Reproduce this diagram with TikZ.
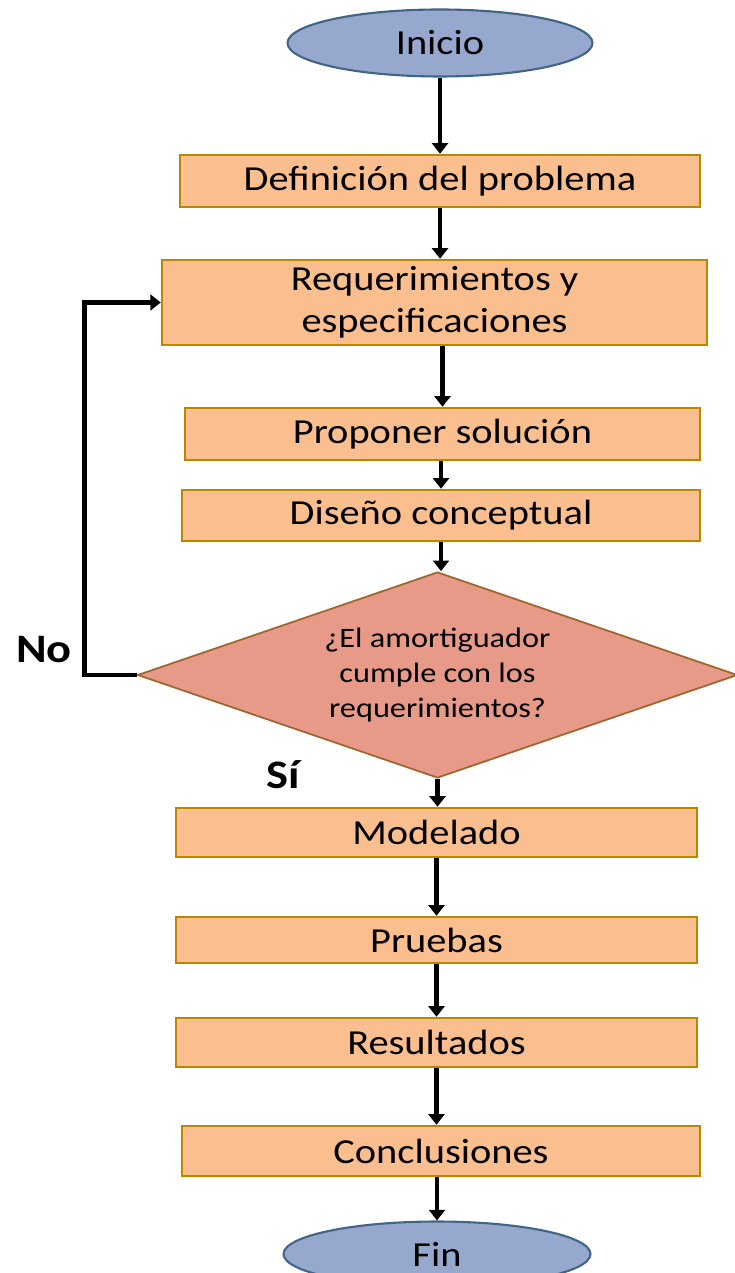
\documentclass[tikz,border=0pt]{standalone}
\usepackage{fontspec}
\setmainfont[FakeStretch=1.15]{Carlito}
\usetikzlibrary{shapes.geometric,arrows.meta}
\definecolor{peachfill}{RGB}{251,190,142}
\definecolor{goldline}{RGB}{185,136,0}
\definecolor{salmonfill}{RGB}{232,154,136}
\definecolor{brownline}{RGB}{160,100,45}
\definecolor{bluefill}{RGB}{150,168,205}
\definecolor{blueline}{RGB}{65,100,135}

\tikzset{
  stepbox/.style={draw=goldline,fill=peachfill,line width=1.4pt,align=center,
    font=\fontsize{20}{24}\selectfont,inner sep=0pt},
  terminal/.style={ellipse,draw=blueline,fill=bluefill,line width=1.2pt,
    inner sep=0pt,font=\fontsize{20}{24}\selectfont},
  decision/.style={diamond,draw=brownline,fill=salmonfill,line width=1pt,
    inner sep=0pt,align=center,shape aspect=2.91,font=\fontsize{16}{20}\selectfont},
  flow/.style={line width=2.6pt,-{Triangle[width=9pt,length=6pt]}},
  answer/.style={font=\fontsize{23}{26}\selectfont\bfseries}
}

\begin{document}
\begin{tikzpicture}[x=0.02cm,y=-0.02cm]
\useasboundingbox (0,0) rectangle (734,1273);

% start / end
\node[terminal,minimum width=6.1cm,minimum height=1.34cm] (inicio) at (440,43) {Inicio};
\node[terminal,minimum width=6.14cm,minimum height=1.3cm] (fin) at (437,1254) {Fin};

% steps
\node[stepbox,minimum width=10.4cm,minimum height=1.04cm] (defi) at (440,181) {Definición del problema};
\node[stepbox,minimum width=10.9cm,minimum height=1.7cm] (req) at (434.5,302.5)
  {Requerimientos y\\especificaciones};
\node[stepbox,minimum width=10.3cm,minimum height=1.04cm] (prop) at (442.5,434) {Proponer solución};
\node[stepbox,minimum width=10.36cm,minimum height=1.02cm] (dise) at (441,515.5) {Diseño conceptual};
\node[decision,minimum width=12cm,minimum height=4.12cm] (dia) at (437.5,675)
  {¿El amortiguador\\cumple con los\\requerimientos?};
\node[stepbox,minimum width=10.42cm,minimum height=0.98cm] (model) at (436.5,832.5) {Modelado};
\node[stepbox,minimum width=10.42cm,minimum height=0.92cm] (prueb) at (436.5,940) {Pruebas};
\node[stepbox,minimum width=10.42cm,minimum height=0.98cm] (result) at (436.5,1042.5) {Resultados};
\node[stepbox,minimum width=10.36cm,minimum height=1.0cm] (concl) at (441,1151) {Conclusiones};

% answers
\node[answer] (no) at (44,650) {No};
\node[answer] (si) at (283,775) {Sí};

% connectors
\draw[flow] (inicio.south) -- (inicio.south |- defi.north);
\draw[flow] (defi.south) -- (defi.south |- req.north);
\draw[flow] (prop.north |- req.south) -- (prop.north);
\draw[flow] (dise.north |- prop.south) -- (dise.north);
\draw[flow] (dise.south) -- (dise.south |- dia.north);
\draw[flow] (dia.south) -- (dia.south |- model.north);
\draw[flow] (model.south) -- (model.south |- prueb.north);
\draw[flow] (prueb.south) -- (prueb.south |- result.north);
\draw[flow] (result.south) -- (result.south |- concl.north);
\draw[flow] (fin.north |- concl.south) -- (fin.north);
\draw[flow] (dia.west) -- ++(-52,0) |- (req.west);
\end{tikzpicture}
\end{document}
